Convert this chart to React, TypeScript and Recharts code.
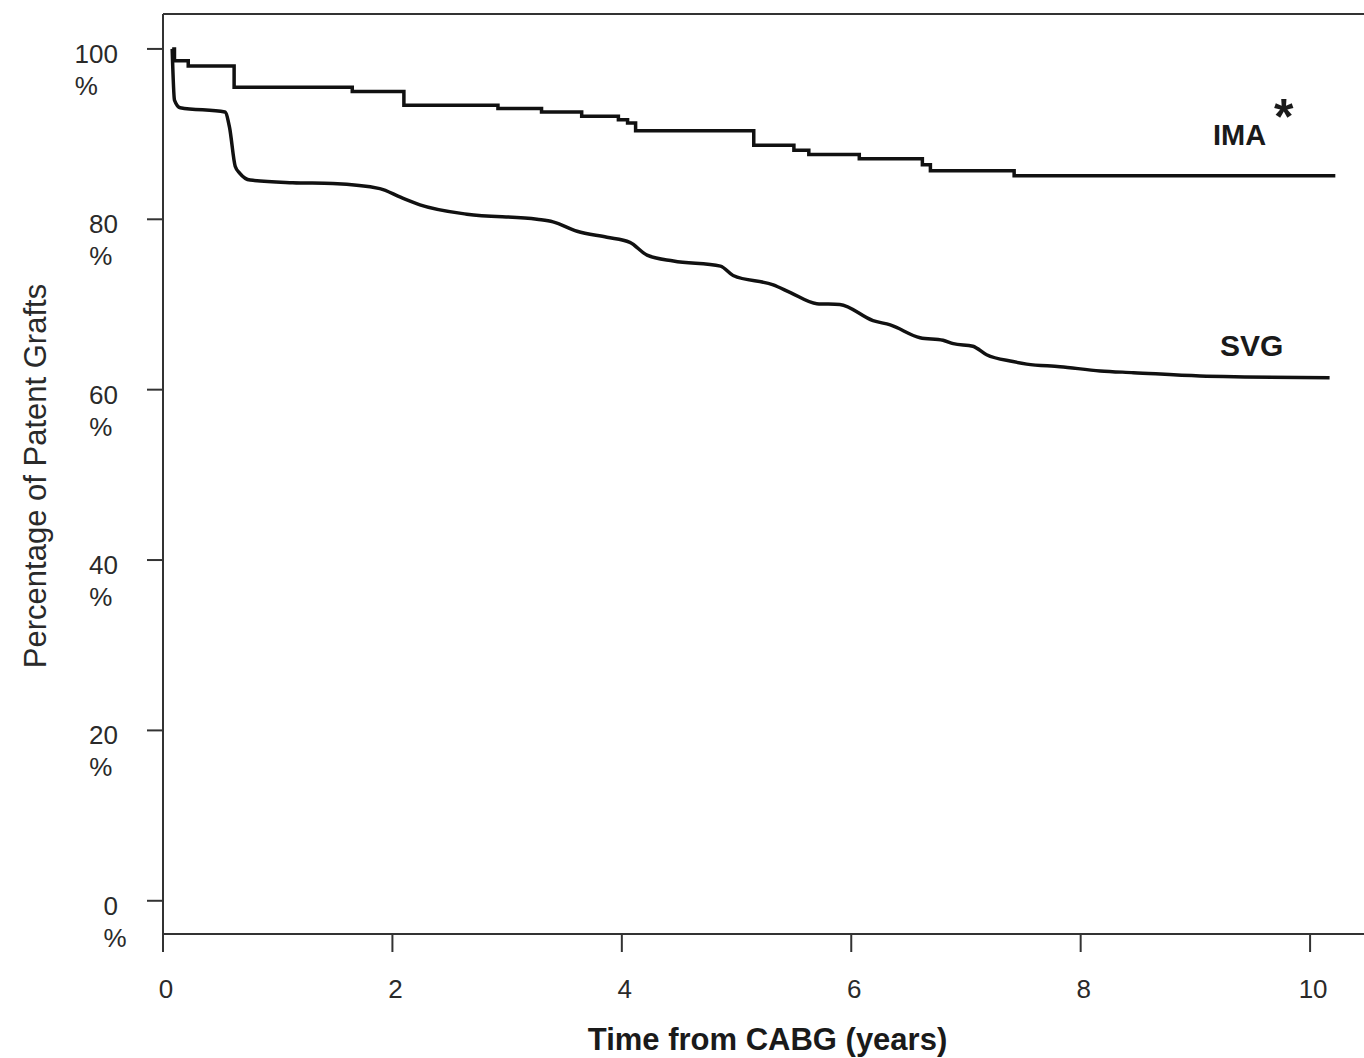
import React from "react";
import { LineChart, Line, XAxis, YAxis, ReferenceLine, ReferenceDot } from "recharts";

// Kaplan-Meier graft patency
const imaYears = [0.08, 0.1, 0.22, 0.62, 1.65, 2.1, 2.92, 3.3, 3.65, 3.97, 4.05, 4.12, 5.15, 5.5, 5.63, 6.07, 6.62, 6.69, 7.42, 10.22];
const imaPatent = [100, 98.6, 98.0, 95.5, 95.0, 93.4, 93.0, 92.6, 92.1, 91.7, 91.3, 90.4, 88.7, 88.1, 87.6, 87.1, 86.4, 85.7, 85.1, 85.1];

const svgYears = [
  0.08, 0.1, 0.15, 0.54, 0.58, 0.63, 0.67, 0.76, 1.13, 1.48, 1.89, 2.07, 2.24, 2.65, 3.26, 3.4, 3.61, 3.87, 4.07, 4.22, 4.45,
  4.86, 4.97, 5.32, 5.47, 5.7, 5.9, 6.19, 6.34, 6.6, 6.8, 6.89, 7.06, 7.18, 7.41, 7.53, 7.82, 8.17, 8.46, 9.04, 9.43, 10.17,
];
const svgPatent = [
  100, 94.0, 93.1, 92.6, 90.8, 86.2, 85.4, 84.6, 84.3, 84.2, 83.6, 82.6, 81.7, 80.6, 80.0, 79.7, 78.6, 77.9, 77.3, 75.8, 75.1,
  74.5, 73.4, 72.3, 71.4, 70.1, 70.0, 68.1, 67.6, 66.1, 65.8, 65.4, 65.1, 64.1, 63.3, 63.0, 62.7, 62.2, 62.0, 61.6, 61.5, 61.4,
];

const xTicks = [0, 2, 4, 6, 8, 10];
const yTicks = [0, 20, 40, 60, 80, 100];

const X_DOMAIN: [number, number] = [0, 10.47];
const Y_DOMAIN: [number, number] = [-3.9, 104.1];

const FONT = "'Liberation Sans', Arial, Helvetica, sans-serif";
const INK = "#111";
const AXIS = "#333";

const imaData = imaYears.map((t, i) => ({ t, v: imaPatent[i] }));
const svgData = svgYears.map((t, i) => ({ t, v: svgPatent[i] }));

function YTick(props: any) {
  const { x, y, payload } = props;
  const label = String(payload.value);
  const right = x - 27;
  const left = right - label.length * 14.4;
  return (
    <g fontFamily={FONT} fontSize={26} fill="#2a2a2a">
      <text x={right} y={y + 14} textAnchor="end">
        {label}
      </text>
      <text x={left} y={y + 46} textAnchor="start">
        %
      </text>
    </g>
  );
}

function XTick(props: any) {
  const { x, y, payload } = props;
  return (
    <text x={x + 3} y={y + 44} textAnchor="middle" fontFamily={FONT} fontSize={26} fill="#2a2a2a">
      {payload.value}
    </text>
  );
}

export default function App() {
  return (
    <div style={{ position: "absolute", left: 0, top: 0, background: "#fff" }}>
      <LineChart width={1364} height={1058} margin={{ top: 14, right: 0, bottom: 0, left: 0 }}>
        <XAxis
          type="number"
          dataKey="t"
          domain={X_DOMAIN}
          ticks={xTicks}
          allowDataOverflow
          height={124}
          tickSize={18}
          stroke={AXIS}
          strokeWidth={2}
          tick={<XTick />}
          label={{
            content: (p: any) => {
              const vb = p.viewBox;
              return (
                <text
                  x={vb.x + vb.width / 2 + 4}
                  y={1050}
                  textAnchor="middle"
                  fontFamily={FONT}
                  fontSize={31}
                  fontWeight="bold"
                  fill="#1a1a1a"
                >
                  Time from CABG (years)
                </text>
              );
            },
          }}
        />
        <YAxis
          type="number"
          domain={Y_DOMAIN}
          ticks={yTicks}
          allowDataOverflow
          width={163}
          tickSize={16}
          stroke={AXIS}
          strokeWidth={2}
          tick={<YTick />}
          label={{
            content: (p: any) => {
              const vb = p.viewBox;
              const cy = vb.y + vb.height / 2 + 2;
              return (
                <text
                  x={35}
                  y={cy}
                  transform={`rotate(-90, 35, ${cy})`}
                  textAnchor="middle"
                  dominantBaseline="central"
                  fontFamily={FONT}
                  fontSize={31}
                  fill="#2a2a2a"
                >
                  Percentage of Patent Grafts
                </text>
              );
            },
          }}
        />
        <ReferenceLine y={Y_DOMAIN[1]} stroke={AXIS} strokeWidth={2} />
        <Line
          data={imaData}
          dataKey="v"
          type="stepAfter"
          stroke={INK}
          strokeWidth={3.5}
          dot={false}
          isAnimationActive={false}
        />
        <Line
          data={svgData}
          dataKey="v"
          type="monotone"
          stroke={INK}
          strokeWidth={3.5}
          dot={false}
          isAnimationActive={false}
        />
        <ReferenceDot
          x={9.385}
          y={89.9}
          r={0}
          label={{ value: "IMA", position: "center", fontFamily: FONT, fontSize: 29, fontWeight: "bold", fill: "#1a1a1a" }}
        />
        <ReferenceDot
          x={9.77}
          y={92.1}
          r={0}
          label={{ value: "*", position: "center", fontFamily: FONT, fontSize: 50, fontWeight: "bold", fill: "#1a1a1a" }}
        />
        <ReferenceDot
          x={9.49}
          y={65.26}
          r={0}
          label={{ value: "SVG", position: "center", fontFamily: FONT, fontSize: 30, fontWeight: "bold", fill: "#1a1a1a" }}
        />
      </LineChart>
    </div>
  );
}
